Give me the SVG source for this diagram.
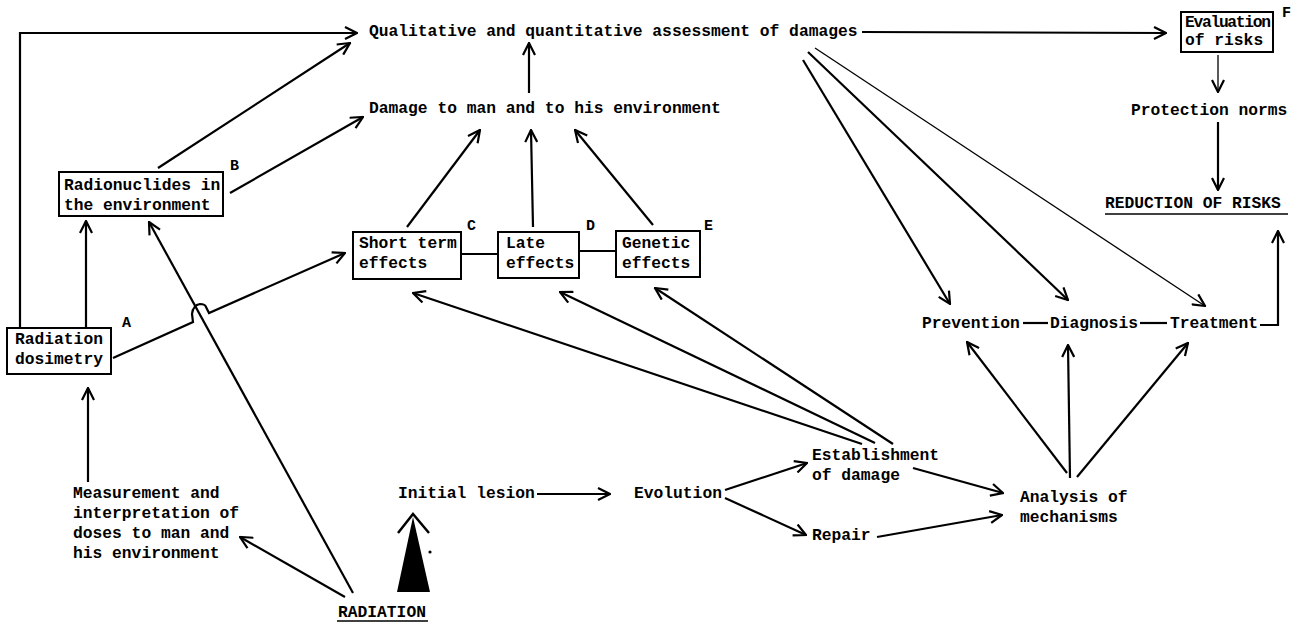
<svg xmlns="http://www.w3.org/2000/svg" width="1311" height="622" viewBox="0 0 1311 622">
<style>
text{font-family:"Liberation Mono","DejaVu Sans Mono",monospace;font-weight:bold;font-size:16.3px;fill:#000}
.lbl{font-size:15px}
.box{fill:#fff;stroke:#000;stroke-width:2}
.c{fill:none;stroke:#000;stroke-width:2.2}
.t{fill:none;stroke:#000;stroke-width:1.3}
.a{marker-end:url(#arr)}
</style>
<defs>
<marker id="arr" viewBox="0 0 14 14" refX="13" refY="7" markerWidth="14" markerHeight="14" markerUnits="userSpaceOnUse" orient="auto">
<path d="M1,1 L13,7 L1,13" fill="none" stroke="#000" stroke-width="2.2"/>
</marker>
</defs>
<rect width="1311" height="622" fill="#fff"/>
<g id="connectors">
<path class="c a" d="M20,328 L20,33 L357,33"/>
<path class="c a" d="M86,328 L86,221"/>
<path class="c a" d="M88,482 L88,388"/>
<path class="c a" d="M113,358 L193,322 L192,314 Q193,305 200,304 Q205,304 206,307 L209,313 L345,253"/>
<path class="c a" d="M353,593 L149,222"/>
<path class="c a" d="M345,597 L240,537"/>
<path class="c a" d="M158,168 L350,43"/>
<path class="c a" d="M230,193 L363,117"/>
<path class="c a" d="M407,227 L480,130"/>
<path class="c a" d="M533,227 L531,130"/>
<path class="c a" d="M653,225 L575,130"/>
<path class="c a" d="M529,93 L529,43"/>
<path class="c" d="M461,254 L498,254"/>
<path class="c" d="M579,251 L616,251"/>
<path class="c a" d="M862,32 L1166,33"/>
<path class="t a" d="M1218,55 L1218,92"/>
<path class="c a" d="M1218,122 L1218,190"/>
<path class="c a" d="M1260,325 L1278,325 L1278,231"/>
<path class="c a" d="M803,60 L950,304"/>
<path class="c a" d="M808,52 L1068,300"/>
<path class="t a" d="M815,48 L1205,306"/>
<path class="c" d="M1023,323 L1048,323"/>
<path class="c" d="M1140,323 L1167,323"/>
<path class="c a" d="M1067,473 L967,342"/>
<path class="c a" d="M1070,478 L1068,345"/>
<path class="c a" d="M1077,477 L1188,343"/>
<path class="c a" d="M862,444 L413,293"/>
<path class="c a" d="M875,443 L560,292"/>
<path class="c a" d="M893,444 L655,288"/>
<path class="c a" d="M537,494 L610,494"/>
<path class="c a" d="M725,490 L807,463"/>
<path class="c a" d="M725,498 L806,535"/>
<path class="c a" d="M913,468 L1003,493"/>
<path class="c a" d="M877,537 L1002,515"/>
<polygon points="397,592 430,592 413,517" fill="#000"/>
<path d="M398,533 L413,514 L429,533" fill="none" stroke="#000" stroke-width="2.5"/>
<circle cx="430" cy="552" r="1.6" fill="#000"/>
</g>
<g id="n-qual"><text x="369" y="36">Qualitative and quantitative assessment of damages</text></g>
<g id="n-damage"><text x="369" y="113">Damage to man and to his environment</text></g>
<g id="n-radionuclides">
<rect class="box" x="59" y="172" width="164" height="44"/>
<text x="64" y="190">Radionuclides in</text>
<text x="64" y="210">the environment</text>
<text class="lbl" x="230" y="170">B</text>
</g>
<g id="n-dosimetry">
<rect class="box" x="7" y="328" width="104" height="46"/>
<text x="15" y="344">Radiation</text>
<text x="15" y="364">dosimetry</text>
<text class="lbl" x="122" y="327">A</text>
</g>
<g id="n-short">
<rect class="box" x="353" y="232" width="108" height="47"/>
<text x="359" y="248">Short term</text>
<text x="359" y="268">effects</text>
<text class="lbl" x="467" y="230">C</text>
</g>
<g id="n-late">
<rect class="box" x="498" y="232" width="81" height="46"/>
<text x="506" y="248">Late</text>
<text x="506" y="268">effects</text>
<text class="lbl" x="586" y="230">D</text>
</g>
<g id="n-genetic">
<rect class="box" x="616" y="231" width="84" height="46"/>
<text x="622" y="248">Genetic</text>
<text x="622" y="268">effects</text>
<text class="lbl" x="704" y="230">E</text>
</g>
<g id="n-evaluation">
<rect class="box" x="1181" y="12" width="92" height="40"/>
<text x="1185" y="27" textLength="86">Evaluation</text>
<text x="1185" y="45">of risks</text>
<text class="lbl" x="1282" y="17">F</text>
</g>
<g id="n-protection"><text x="1131" y="115">Protection norms</text></g>
<g id="n-reduction">
<text x="1105" y="208">REDUCTION OF RISKS</text>
<path d="M1105,214 L1288,214" stroke="#000" stroke-width="1.6"/>
</g>
<g id="n-prevention"><text x="922" y="328">Prevention</text></g>
<g id="n-diagnosis"><text x="1050" y="328">Diagnosis</text></g>
<g id="n-treatment"><text x="1170" y="328">Treatment</text></g>
<g id="n-measurement">
<text x="73" y="498">Measurement and</text>
<text x="73" y="518">interpretation of</text>
<text x="73" y="538">doses to man and</text>
<text x="73" y="558">his environment</text>
</g>
<g id="n-radiation">
<text x="338" y="617">RADIATION</text>
<path d="M337,621 L428,621" stroke="#000" stroke-width="1.6"/>
</g>
<g id="n-initial"><text x="398" y="498">Initial lesion</text></g>
<g id="n-evolution"><text x="634" y="498">Evolution</text></g>
<g id="n-establishment">
<text x="812" y="460">Establishment</text>
<text x="812" y="480">of damage</text>
</g>
<g id="n-repair"><text x="812" y="540">Repair</text></g>
<g id="n-analysis">
<text x="1020" y="502">Analysis of</text>
<text x="1020" y="522">mechanisms</text>
</g>
</svg>
